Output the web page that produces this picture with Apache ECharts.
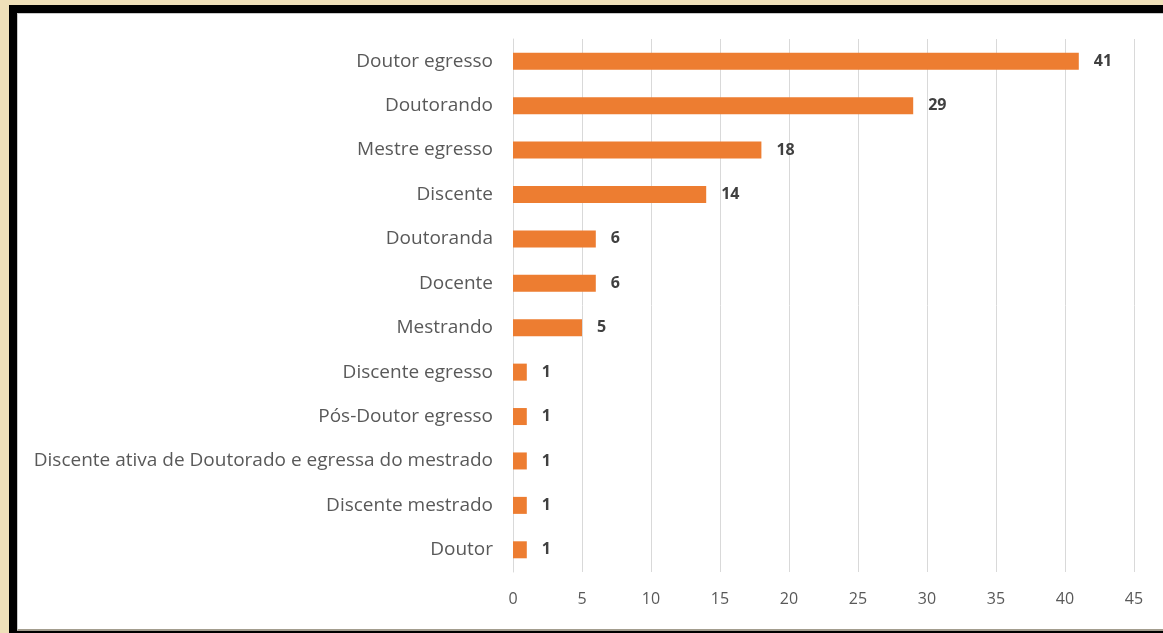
<!DOCTYPE html>
<html>
<head>
<meta charset="utf-8">
<script src="https://cdn.jsdelivr.net/npm/echarts@6/dist/echarts.min.js"></script>
<style>
html, body { margin: 0; padding: 0; }
body { width: 1163px; height: 633px; background: #efe0b9; position: relative; overflow: hidden; }
.frame {
  position: absolute; left: 9px; top: 5px; right: -20px; bottom: 0;
  background: #000;
}
.paper {
  position: absolute; left: 8px; top: 8px; right: 0; bottom: 2px;
  background: #fff;
  border-top: 1px solid #c9c9c9;
  border-left: 1px solid #c9c9c9;
  border-bottom: 2px solid #a39d8e;
}
.chart-container { position: absolute; left: 0; top: 0; width: 1163px; height: 633px; }
</style>
</head>
<body>
<div class="frame"><div class="paper"></div></div>
<div class="chart-container"></div>
<script>
// categories, top to bottom as in the picture
const categories = [
  'Doutor egresso',
  'Doutorando',
  'Mestre egresso',
  'Discente',
  'Doutoranda',
  'Docente',
  'Mestrando',
  'Discente egresso',
  'Pós-Doutor egresso',
  'Discente ativa de Doutorado e egressa do mestrado',
  'Discente mestrado',
  'Doutor'
];
const values = [41, 29, 18, 14, 6, 6, 5, 1, 1, 1, 1, 1];
const axisMax = 45;
const axisStep = 5;

const myChart = echarts.init(document.querySelector('.chart-container'));

myChart.setOption({
  animation: false,
  backgroundColor: 'transparent',
  grid: {
    left: 513,
    right: 29,
    top: 39,
    bottom: 61,
  },
  xAxis: {
    type: 'value',
    min: 0,
    max: axisMax,
    interval: axisStep,
    axisLine: { show: false },
    axisTick: { show: false },
    axisLabel: {
      color: '#595959',
      fontFamily: 'Open Sans',
      fontSize: 16,
      margin: 19,
    },
    splitLine: {
      show: true,
      lineStyle: { color: '#d9d9d9', width: 1 },
    },
  },
  yAxis: {
    type: 'category',
    inverse: true,
    data: categories,
    axisLine: { show: true, lineStyle: { color: '#d9d9d9', width: 1 } },
    axisTick: { show: false },
    axisLabel: {
      color: '#595959',
      fontFamily: 'Open Sans',
      fontSize: 19,
      margin: 20,
    },
  },
  series: [
    {
      type: 'bar',
      data: values,
      barWidth: 17,
      itemStyle: { color: '#ed7d31' },
      label: {
        show: true,
        position: 'right',
        distance: 15,
        color: '#404040',
        fontFamily: 'Open Sans',
        fontWeight: 'bold',
        fontSize: 16,
      },
    },
  ],
});
</script>
</body>
</html>
